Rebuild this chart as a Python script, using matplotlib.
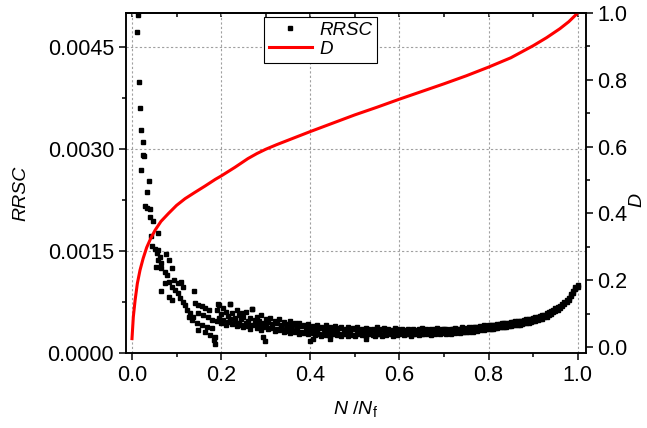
import matplotlib
matplotlib.use('Agg')
import matplotlib.pyplot as plt
from matplotlib.ticker import MultipleLocator, FormatStrFormatter

plt.rcParams['font.family'] = ['Liberation Sans', 'DejaVu Sans']
plt.rcParams['mathtext.fontset'] = 'custom'
plt.rcParams['mathtext.rm'] = 'Liberation Sans'
plt.rcParams['mathtext.it'] = 'Liberation Sans:italic'

# RRSC scatter, early part (N/Nf < 0.2)
early_x = [0.014, 0.012, 0.0165, 0.018, 0.0195, 0.024, 0.024, 0.027, 0.021, 0.038,
           0.033, 0.029, 0.033, 0.040, 0.040, 0.048, 0.058, 0.043, 0.044, 0.052,
           0.059, 0.055, 0.063, 0.076, 0.059, 0.066, 0.054, 0.082, 0.066, 0.074,
           0.089, 0.078, 0.082, 0.074, 0.066, 0.095, 0.104, 0.111, 0.115, 0.089,
           0.097, 0.104, 0.082, 0.089, 0.108, 0.115, 0.119, 0.140, 0.142, 0.149,
           0.157, 0.164, 0.172, 0.123, 0.130, 0.138, 0.127, 0.134, 0.145, 0.157,
           0.168, 0.179, 0.149, 0.160, 0.171, 0.179, 0.148, 0.164, 0.175, 0.187,
           0.187, 0.185]
early_r = [0.00497, 0.00472, 0.00399, 0.00360, 0.00328, 0.00311, 0.00291, 0.00290, 0.00269, 0.00253,
           0.00237, 0.00217, 0.00213, 0.00212, 0.00201, 0.00194, 0.00177, 0.00173, 0.00157, 0.00154,
           0.00152, 0.00147, 0.00142, 0.00146, 0.00137, 0.00132, 0.00127, 0.00137, 0.00125, 0.00120,
           0.00125, 0.00115, 0.00105, 0.00103, 0.00091, 0.00108, 0.00103, 0.00105, 0.00098, 0.00098,
           0.00093, 0.00088, 0.00083, 0.00078, 0.00081, 0.00076, 0.00071, 0.00092, 0.00074, 0.00071,
           0.00069, 0.00066, 0.00064, 0.00064, 0.00059, 0.00054, 0.00054, 0.00049, 0.00044, 0.00042,
           0.00039, 0.00037, 0.00059, 0.00056, 0.00054, 0.00049, 0.00034, 0.00032, 0.00027, 0.00024,
           0.00014, 0.00019]

# band 0.19 - 0.40
band_a_x = [0.190, 0.195, 0.200, 0.205, 0.210, 0.215, 0.220, 0.225, 0.230, 0.235,
            0.240, 0.245, 0.250, 0.255, 0.260, 0.265, 0.270, 0.275, 0.280, 0.285,
            0.290, 0.295, 0.300, 0.305, 0.310, 0.315, 0.320, 0.325, 0.330, 0.335,
            0.340, 0.345, 0.350, 0.355, 0.360, 0.365, 0.370, 0.375, 0.380, 0.385,
            0.390, 0.395, 0.400]
band_a_r1 = [0.00063, 0.00071, 0.00058, 0.00066, 0.00061, 0.00055, 0.00072, 0.00059, 0.00052, 0.00064,
             0.00057, 0.00050, 0.00054, 0.00060, 0.00048, 0.00052, 0.00065, 0.00049, 0.00053, 0.00047,
             0.00056, 0.00045, 0.00050, 0.00046, 0.00052, 0.00043, 0.00048, 0.00044, 0.00050, 0.00041,
             0.00046, 0.00043, 0.00040, 0.00047, 0.00041, 0.00044, 0.00039, 0.00045, 0.00040, 0.00042,
             0.00038, 0.00043, 0.00037]
band_a_r2 = [0.00048, 0.00052, 0.00044, 0.00049, 0.00041, 0.00046, 0.00050, 0.00043, 0.00047, 0.00040,
             0.00045, 0.00042, 0.00038, 0.00044, 0.00040, 0.00036, 0.00041, 0.00043, 0.00037, 0.00040,
             0.00034, 0.00038, 0.00041, 0.00035, 0.00037, 0.00039, 0.00033, 0.00036, 0.00034, 0.00037,
             0.00032, 0.00035, 0.00033, 0.00030, 0.00034, 0.00031, 0.00033, 0.00029, 0.00032, 0.00030,
             0.00033, 0.00028, 0.00031]

# band 0.405 - 0.70
band_b_x = [0.405, 0.410, 0.415, 0.420, 0.425, 0.430, 0.435, 0.440, 0.445, 0.450,
            0.455, 0.460, 0.465, 0.470, 0.475, 0.480, 0.485, 0.490, 0.495, 0.500,
            0.505, 0.510, 0.515, 0.520, 0.525, 0.530, 0.535, 0.540, 0.545, 0.550,
            0.555, 0.560, 0.565, 0.570, 0.575, 0.580, 0.585, 0.590, 0.595, 0.600,
            0.605, 0.610, 0.615, 0.620, 0.625, 0.630, 0.635, 0.640, 0.645, 0.650,
            0.655, 0.660, 0.665, 0.670, 0.675, 0.680, 0.685, 0.690, 0.695, 0.700]
band_b_r1 = [0.00040, 0.00036, 0.00042, 0.00037, 0.00039, 0.00035, 0.00041, 0.00036, 0.00038, 0.00034,
             0.00040, 0.00035, 0.00037, 0.00039, 0.00034, 0.00036, 0.00038, 0.00033, 0.00037, 0.00035,
             0.00039, 0.00034, 0.00036, 0.00033, 0.00037, 0.00035, 0.00032, 0.00036, 0.00034, 0.00038,
             0.00033, 0.00035, 0.00037, 0.00032, 0.00036, 0.00034, 0.00033, 0.00037, 0.00035, 0.00032,
             0.00036, 0.00034, 0.00033, 0.00035, 0.00032, 0.00036, 0.00034, 0.00033, 0.00035, 0.00037,
             0.00033, 0.00035, 0.00034, 0.00036, 0.00033, 0.00035, 0.00037, 0.00034, 0.00036, 0.00035]
band_b_r2 = [0.00030, 0.00027, 0.00031, 0.00028, 0.00025, 0.00029, 0.00027, 0.00030, 0.00026, 0.00028,
             0.00031, 0.00027, 0.00029, 0.00026, 0.00028, 0.00030, 0.00026, 0.00029, 0.00027, 0.00025,
             0.00028, 0.00030, 0.00027, 0.00029, 0.00026, 0.00028, 0.00030, 0.00027, 0.00025, 0.00029,
             0.00028, 0.00026, 0.00029, 0.00027, 0.00030, 0.00028, 0.00026, 0.00029, 0.00027, 0.00028,
             0.00030, 0.00027, 0.00029, 0.00028, 0.00026, 0.00029, 0.00028, 0.00030, 0.00027, 0.00029,
             0.00028, 0.00030, 0.00029, 0.00027, 0.00030, 0.00028, 0.00031, 0.00029, 0.00030, 0.00031]

# band 0.705 - 1.0
band_c_x = [0.705, 0.710, 0.715, 0.720, 0.725, 0.730, 0.735, 0.740, 0.745, 0.750,
            0.755, 0.760, 0.765, 0.770, 0.775, 0.780, 0.785, 0.790, 0.795, 0.800,
            0.805, 0.810, 0.815, 0.820, 0.825, 0.830, 0.835, 0.840, 0.845, 0.850,
            0.855, 0.860, 0.865, 0.870, 0.875, 0.880, 0.885, 0.890, 0.895, 0.900,
            0.905, 0.910, 0.915, 0.920, 0.925, 0.930, 0.935, 0.940, 0.945, 0.950,
            0.955, 0.960, 0.965, 0.970, 0.975, 0.980, 0.985, 0.990, 0.995, 1.000]
band_c_r1 = [0.00035, 0.00034, 0.00036, 0.00035, 0.00037, 0.00035, 0.00036, 0.00038, 0.00036, 0.00037,
             0.00038, 0.00037, 0.00039, 0.00038, 0.00039, 0.00040, 0.00039, 0.00041, 0.00040, 0.00041,
             0.00041, 0.00042, 0.00042, 0.00043, 0.00043, 0.00044, 0.00044, 0.00045, 0.00045, 0.00046,
             0.00046, 0.00047, 0.00047, 0.00048, 0.00048, 0.00049, 0.00050, 0.00050, 0.00051, 0.00052,
             0.00053, 0.00053, 0.00055, 0.00056, 0.00057, 0.00059, 0.00060, 0.00062, 0.00064, 0.00066,
             0.00068, 0.00070, 0.00072, 0.00075, 0.00078, 0.00082, 0.00087, 0.00092, 0.00097, 0.00100]
band_c_r2 = [0.00029, 0.00030, 0.00029, 0.00031, 0.00030, 0.00031, 0.00030, 0.00032, 0.00031, 0.00032,
             0.00032, 0.00033, 0.00032, 0.00034, 0.00033, 0.00034, 0.00035, 0.00034, 0.00035, 0.00036,
             0.00036, 0.00036, 0.00037, 0.00037, 0.00038, 0.00038, 0.00039, 0.00039, 0.00040, 0.00040,
             0.00041, 0.00041, 0.00042, 0.00042, 0.00043, 0.00044, 0.00044, 0.00045, 0.00046, 0.00047,
             0.00048, 0.00049, 0.00050, 0.00051, 0.00053, 0.00054, 0.00056, 0.00058, 0.00060, 0.00062,
             0.00064, 0.00066, 0.00069, 0.00072, 0.00075, 0.00079, 0.00084, 0.00089, 0.00094, 0.00098]

# stray points
stray_x = [0.295, 0.299, 0.400, 0.405, 0.445, 0.524, 0.269, 0.246, 0.220, 0.194]
stray_r = [0.000235, 0.000185, 0.000185, 0.00021, 0.000206, 0.000206, 0.00065, 0.00059, 0.00072, 0.00072]

# damage D
d_x = [0.0, 0.003, 0.007, 0.012, 0.018, 0.025, 0.033, 0.042, 0.052, 0.065,
       0.082, 0.10, 0.119, 0.14, 0.164, 0.187, 0.20, 0.231, 0.26, 0.28,
       0.30, 0.325, 0.35, 0.40, 0.45, 0.50, 0.55, 0.60, 0.65, 0.70,
       0.75, 0.80, 0.85, 0.90, 0.93, 0.96, 0.98, 1.0]
d_y = [0.025, 0.09, 0.14, 0.19, 0.23, 0.265, 0.298, 0.325, 0.35, 0.376,
       0.40, 0.424, 0.444, 0.462, 0.482, 0.502, 0.512, 0.538, 0.564, 0.579,
       0.592, 0.606, 0.619, 0.645, 0.67, 0.695, 0.718, 0.742, 0.765, 0.788,
       0.812, 0.838, 0.866, 0.902, 0.926, 0.953, 0.974, 1.0]

rrsc_x = early_x + band_a_x + band_a_x + band_b_x + band_b_x + band_c_x + band_c_x + stray_x
rrsc_y = early_r + band_a_r1 + band_a_r2 + band_b_r1 + band_b_r2 + band_c_r1 + band_c_r2 + stray_r

fig = plt.figure(figsize=(6.47, 4.28), dpi=100)
ax = fig.add_axes([0.1947, 0.1745, 0.7106, 0.7951])

grid_kw = dict(color='#a0a0a0', linestyle=(0, (2, 2)), linewidth=0.8)
ax.grid(True, which='major', **grid_kw)
ax.set_axisbelow(True)

pts, = ax.plot(rrsc_x, rrsc_y, 's', ms=3, color='black', label='RRSC', zorder=3)
ax.set_xlim(-0.0135, 1.018)
ax.set_ylim(0, 0.005)
ax.xaxis.set_major_locator(MultipleLocator(0.2))
ax.xaxis.set_minor_locator(MultipleLocator(0.1))
ax.xaxis.set_major_formatter(FormatStrFormatter('%.1f'))
ax.yaxis.set_major_locator(MultipleLocator(0.0015))
ax.yaxis.set_minor_locator(MultipleLocator(0.00075))
ax.yaxis.set_major_formatter(FormatStrFormatter('%.4f'))
ax.tick_params(which='major', direction='out', length=5, width=1.1, labelsize=15.5)
ax.tick_params(which='minor', direction='out', length=3, width=1.1)

top = ax.secondary_xaxis('top')
top.xaxis.set_major_locator(MultipleLocator(0.1))
top.tick_params(direction='in', length=3, width=1.1, labeltop=False)
top.spines['top'].set_linewidth(1.1)

ax2 = ax.twinx()
line, = ax2.plot(d_x, d_y, color='red', lw=2.2, label='D')
ax2.set_ylim(-0.019, 1.0)
ax2.yaxis.set_major_locator(MultipleLocator(0.2))
ax2.yaxis.set_minor_locator(MultipleLocator(0.1))
ax2.yaxis.set_major_formatter(FormatStrFormatter('%.1f'))
ax2.tick_params(which='major', direction='out', length=5, width=1.1, labelsize=15.5)
ax2.tick_params(which='minor', direction='out', length=3, width=1.1)

for a in (ax, ax2):
    for s in a.spines.values():
        s.set_linewidth(1.1)

ax.set_xlabel(r'$N$ /$N_\mathrm{f}$', fontsize=14)
ax.xaxis.set_label_coords(0.5, -0.135)
ax.set_ylabel('RRSC', fontsize=14, fontstyle='italic')
ax.yaxis.set_label_coords(-0.21, 0.47)
ax2.set_ylabel('D', fontsize=14, fontstyle='italic')
ax2.yaxis.set_label_coords(1.093, 0.45)

leg = ax2.legend([pts, line], ['RRSC', 'D'], loc='upper left', bbox_to_anchor=(0.300, 0.988),
                 prop={'style': 'italic', 'size': 13.5}, frameon=True, fancybox=False,
                 edgecolor='black', framealpha=1, borderaxespad=0, handlelength=2.3,
                 borderpad=0.25, labelspacing=0.1, numpoints=1, handletextpad=0.4)
leg.get_frame().set_linewidth(0.8)

fig.savefig('out.png', dpi=100)
